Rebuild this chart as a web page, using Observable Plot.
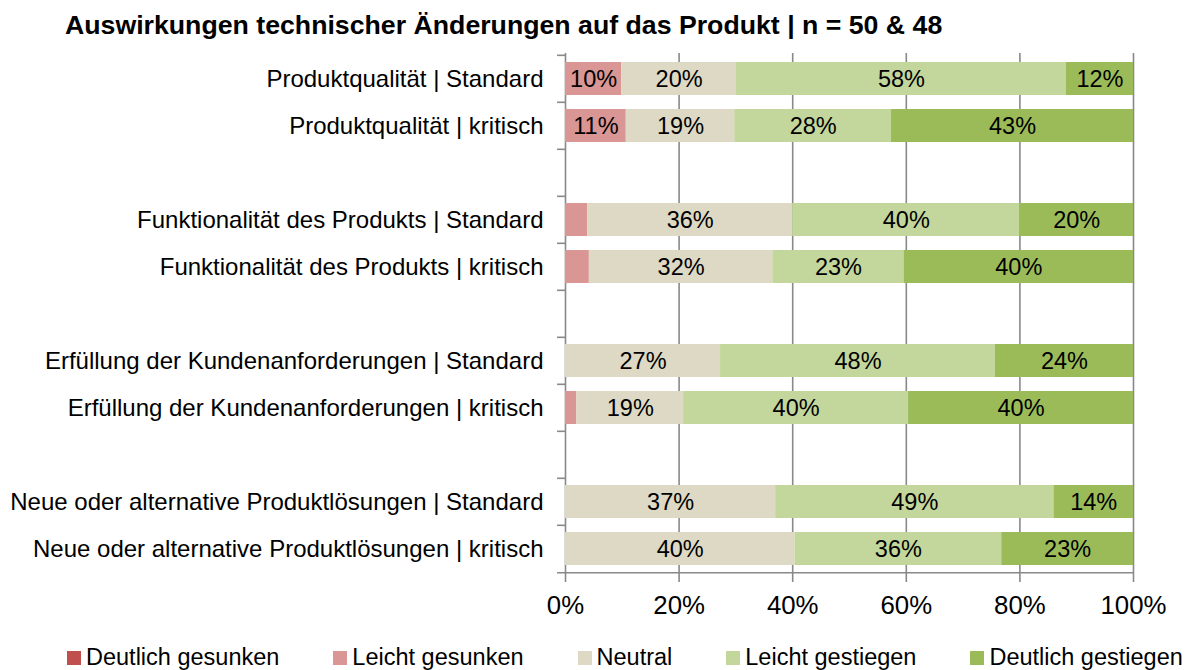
<!DOCTYPE html>
<html><head><meta charset="utf-8">
<script src="https://cdn.jsdelivr.net/npm/d3@7"></script>
<script src="https://cdn.jsdelivr.net/npm/@observablehq/plot@0.6"></script>
<style>
body{margin:0;background:#fff;font-family:"Liberation Sans",Arial,sans-serif;}
#wrap{position:relative;width:1196px;height:670px;overflow:hidden;background:#fff}
#title{position:absolute;left:65px;top:12px;font-weight:bold;font-size:26.7px;line-height:1;white-space:nowrap;color:#000}
#chart{position:absolute;left:0;top:40px}
#legend{position:absolute;left:67px;top:646px;display:flex;font-size:23.5px;line-height:1;white-space:nowrap;color:#000}
.item{display:flex;align-items:center;margin-right:54px}
.sw{width:14px;height:14px;margin-right:5px}
</style></head><body>
<div id="wrap"><div id="title"></div><div id="chart"></div><div id="legend"></div></div>
<script>
const title = "Auswirkungen technischer Änderungen auf das Produkt | n = 50 & 48";
const rows = [
  "Produktqualität | Standard",
  "Produktqualität | kritisch",
  "Funktionalität des Produkts | Standard",
  "Funktionalität des Produkts | kritisch",
  "Erfüllung der Kundenanforderungen | Standard",
  "Erfüllung der Kundenanforderungen | kritisch",
  "Neue oder alternative Produktlösungen | Standard",
  "Neue oder alternative Produktlösungen | kritisch"
];
const seriesNames = ["Deutlich gesunken", "Leicht gesunken", "Neutral", "Leicht gestiegen", "Deutlich gestiegen"];
const seriesColors = ["#C0504D", "#D99694", "#DDD9C4", "#C3D69B", "#9BBB59"];
const deutlichGesunken  = [0, 0, 0, 0, 0, 0, 0, 0];
const leichtGesunken    = [9.9, 10.7, 3.9, 4.2, 0, 2.0, 0, 0];
const neutral           = [20.2, 19.1, 36.1, 32.3, 27.3, 18.8, 37.0, 40.4];
const leichtGestiegen   = [58.1, 27.6, 40.0, 23.1, 48.4, 39.6, 49.0, 36.4];
const deutlichGestiegen = [11.8, 42.6, 20.0, 40.4, 24.3, 39.6, 14.0, 23.2];
const xTicks = [0, 20, 40, 60, 80, 100];

const seriesValues = [deutlichGesunken, leichtGesunken, neutral, leichtGestiegen, deutlichGestiegen];
const table = [];
rows.forEach((r, i) => seriesNames.forEach((s, j) => table.push({row: r, series: s, value: seriesValues[j][i]})));
// y domain with empty spacer slots between groups
const yDomain = rows.flatMap((r, i) => (i > 0 && i % 2 === 0) ? [" ".repeat(i / 2), r] : [r]);

const W = 1196, H = 600, mT = 13, mB = 66, mL = 565, mR = 63;
const step = (H - mT - mB) / yDomain.length;
const gray = "#898989";

document.getElementById("title").textContent = title;

const plot = Plot.plot({
  width: W, height: H,
  marginLeft: mL, marginRight: mR, marginTop: mT, marginBottom: mB,
  x: {domain: [0, 100]},
  y: {domain: yDomain, padding: 0},
  color: {domain: seriesNames, range: seriesColors},
  style: {fontFamily: "'Liberation Sans', Arial, sans-serif", fontSize: "23px", color: "#000", background: "#fff", overflow: "visible"},
  marks: [
    Plot.gridX(xTicks.filter(t => t > 0), {stroke: gray, strokeOpacity: 1, strokeWidth: 1.6}),
    Plot.ruleX([0], {stroke: gray, strokeWidth: 1.6}),
    Plot.barX(table, Plot.stackX({x: "value", y: "row", fill: "series", order: seriesNames, insetTop: 7, insetBottom: 7})),
    Plot.text(table, Plot.stackX({
      x: "value", y: "row", z: "series", order: seriesNames,
      text: d => d.value >= 5 ? Math.round(d.value) + "%" : null,
      fontSize: 23.5, fill: "#000"
    })),
    // category boundary ticks on the left axis
    Plot.ruleY(yDomain, {y: d => d, x1: -1.4, x2: 0, dy: -step / 2, stroke: gray, strokeWidth: 1.6}),
    Plot.ruleY([yDomain[yDomain.length - 1]], {y: d => d, x1: -1.4, x2: 100, dy: step / 2, stroke: gray, strokeWidth: 1.6}),
    Plot.axisX({ticks: xTicks, tickFormat: d => d + "%", tickSize: 8, tickPadding: 13, fontSize: 25.8, stroke: gray, strokeWidth: 1.6, label: null}),
    Plot.axisY({tickSize: 0, tickPadding: 22, fontSize: 24, label: null, tickFormat: d => d.trim() ? d : ""})
  ]
});
document.getElementById("chart").appendChild(plot);

const legend = document.getElementById("legend");
seriesNames.forEach((s, i) => {
  const it = document.createElement("div"); it.className = "item";
  const sw = document.createElement("div"); sw.className = "sw"; sw.style.background = seriesColors[i];
  const t = document.createElement("span"); t.textContent = s;
  it.appendChild(sw); it.appendChild(t); legend.appendChild(it);
});
</script>
</body></html>
